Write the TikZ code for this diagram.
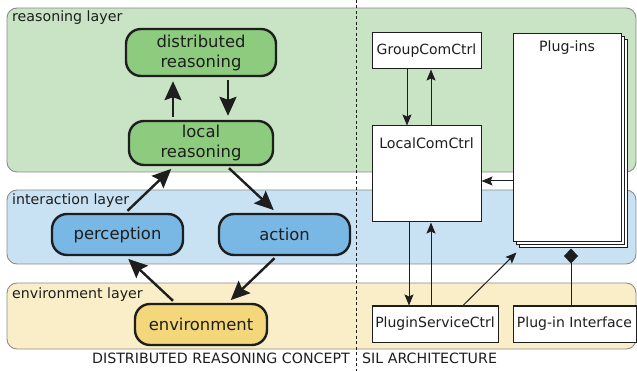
\documentclass[tikz,border=0pt]{standalone}
\usepackage{fontspec}
\setmainfont{DejaVu Sans}
\usetikzlibrary{arrows.meta,calc}
\definecolor{rlayer}{HTML}{C8E4C4}
\definecolor{ilayer}{HTML}{C9E2F3}
\definecolor{elayer}{HTML}{F9EEC7}
\definecolor{gnode}{HTML}{8DCB7F}
\definecolor{bnode}{HTML}{79B7E5}
\definecolor{ynode}{HTML}{F3D77A}
\definecolor{lborder}{HTML}{8C8C8C}
\definecolor{ink}{HTML}{1E1E1E}
\tikzset{
  layerbox/.style={draw=lborder, line width=0.9pt, rounded corners=10pt},
  layerlabel/.style={anchor=west, inner sep=0pt, font=\fontsize{14.2}{17}\selectfont, text=ink},
  lnode/.style={draw=ink, line width=2.4pt, rounded corners=15pt, align=center,
    font=\fontsize{16.4}{20}\selectfont, text=ink, inner sep=0pt},
  bigarrow/.style={draw=ink, line width=2.4pt, -{Stealth[length=19pt,width=17pt,inset=3pt]}, shorten >=1pt},
  sbox/.style={draw=ink, line width=1pt, fill=white, font=\fontsize{14}{17}\selectfont, text=ink, inner sep=0pt},
  sarrow/.style={draw=ink, line width=1pt, -{Stealth[length=11pt,width=9pt,inset=2pt]}},
  caplabel/.style={inner sep=0pt, font=\fontsize{14.2}{17}\selectfont, text=ink}
}
\begin{document}
\begin{tikzpicture}[x=1pt,y=-1pt]
\useasboundingbox (0,0) rectangle (637,371);
% layers
\draw[layerbox, fill=rlayer] (7,8) rectangle (636,172);
\draw[layerbox, fill=ilayer] (7,190) rectangle (636,264);
\draw[layerbox, fill=elayer] (7,283) rectangle (636,349);
\node[layerlabel] (lr) at (12,18) {reasoning layer};
\node[layerlabel] (li) at (12,200.5) {interaction layer};
\node[layerlabel] (le) at (12,294.5) {environment layer};
% divider
\draw[ink, line width=0.9pt, dash pattern=on 3pt off 2.5pt] (356,0) -- (356,371);
% left nodes
\node[lnode, fill=gnode, minimum width=150pt, minimum height=47pt] (dist) at (201,52.5) {distributed\\reasoning};
\node[lnode, fill=gnode, minimum width=144pt, minimum height=44pt] (local) at (201,143) {local\\reasoning};
\node[lnode, fill=bnode, minimum width=131pt, minimum height=41pt] (perc) at (117.5,234.5) {perception};
\node[lnode, fill=bnode, minimum width=131pt, minimum height=41pt] (act) at (284.5,234.5) {action};
\node[lnode, fill=ynode, minimum width=132pt, minimum height=41pt] (env) at (201,324.5) {environment};
% left connectors
\draw[bigarrow] ([xshift=-28pt,yshift=3pt]local.north) -- ([xshift=-28pt,yshift=-3pt]dist.south);
\draw[bigarrow] ([xshift=27pt,yshift=-3pt]dist.south) -- ([xshift=27pt,yshift=3pt]local.north);
\draw[bigarrow] ([xshift=10pt,yshift=2pt]perc.north) -- ([xshift=-29pt,yshift=-2pt]local.south);
\draw[bigarrow] ([xshift=28pt,yshift=-2pt]local.south) -- ([xshift=-10pt,yshift=2pt]act.north);
\draw[bigarrow] ([xshift=-10pt,yshift=-2pt]act.south) -- ([xshift=29pt,yshift=2pt]env.north);
\draw[bigarrow] ([xshift=-28pt,yshift=2pt]env.north) -- ([xshift=10pt,yshift=-2pt]perc.south);
% right side
\node[sbox, minimum width=109pt, minimum height=36pt] (gcc) at (426.5,51) {GroupComCtrl};
\node[sbox, minimum width=109pt, minimum height=96pt] (lcc) at (426.5,174) {};
\node[caplabel] (lcclabel) at ([yshift=-18pt]lcc.north) {LocalComCtrl};
\node[sbox, minimum width=108pt, minimum height=208pt] (plugb2) at (573,144) {};
\node[sbox, minimum width=108pt, minimum height=208pt] (plugb1) at (570,141) {};
\node[sbox, minimum width=108pt, minimum height=208pt] (plug) at (567,138) {};
\node[caplabel] (pluglabel) at ([yshift=-14pt]plug.north) {Plug-ins};
\node[sbox, minimum width=126pt, minimum height=36pt] (psc) at (435,324) {PluginServiceCtrl};
\node[sbox, minimum width=123pt, minimum height=36pt] (pif) at (574.5,324) {Plug-in Interface};
% right connectors
\draw[sarrow] ([xshift=-19.5pt]gcc.south) -- ([xshift=-19.5pt]lcc.north);
\draw[sarrow] ([xshift=4.5pt]lcc.north) -- ([xshift=4.5pt]gcc.south);
\draw[sarrow] ([yshift=-43pt]plug.west) -- ([yshift=-43pt]plug.west -| lcc.east);
\draw[sarrow] ([xshift=-17.5pt]lcc.south) -- ([xshift=-17.5pt]lcc.south |- psc.north);
\draw[sarrow] ([xshift=4.5pt]lcc.south |- psc.north) -- ([xshift=4.5pt]lcc.south);
\draw[sarrow] ([xshift=28pt]psc.north) -- ([xshift=-2pt,yshift=-4pt]plugb2.south west);
\coordinate (dtip) at ([xshift=-3.5pt]pif.north |- plugb2.south);
\draw[draw=ink, line width=1pt, -{Diamond[length=15pt,width=14pt]}] ([xshift=-3.5pt]pif.north) -- (dtip);
% captions
\node[caplabel, anchor=east] (c1) at (350,358.5) {DISTRIBUTED REASONING CONCEPT};
\node[caplabel, anchor=west] (c2) at (362,358.5) {SIL ARCHITECTURE};
\end{tikzpicture}
\end{document}
